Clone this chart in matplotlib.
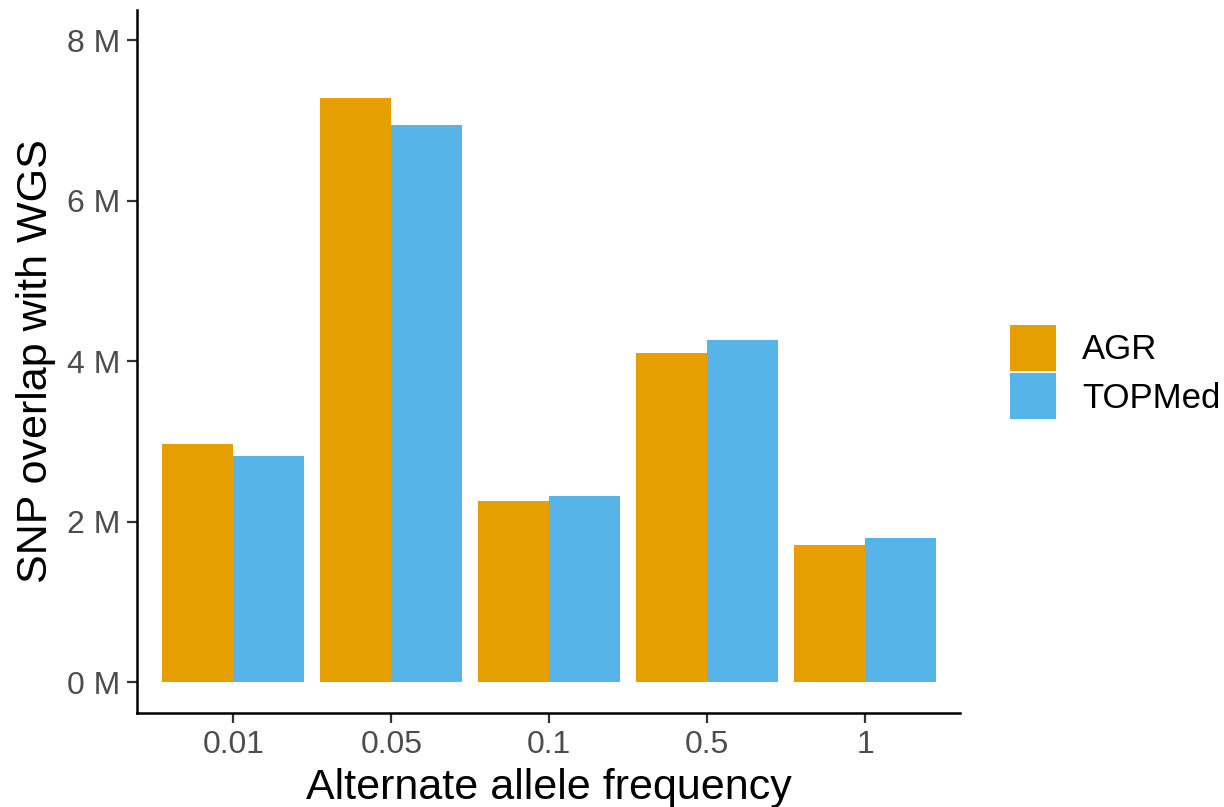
import numpy as np
import matplotlib.pyplot as plt
from matplotlib.ticker import FuncFormatter

plt.rcParams['font.family'] = ['Liberation Sans', 'DejaVu Sans']

freqs = ['0.01', '0.05', '0.1', '0.5', '1']
agr = [2.97, 7.28, 2.255, 4.10, 1.71]       # millions
topmed = [2.82, 6.94, 2.32, 4.26, 1.795]
series = ['AGR', 'TOPMed']
colors = ['#E69F00', '#56B4E9']

fig = plt.figure(figsize=(12.24, 8.07), dpi=100)
ax = fig.add_axes([137/1224, 1-713/807, (960-137)/1224, (713-10)/807])

x = np.arange(1, len(freqs)+1)
w = 0.45
ax.bar(x - w/2, agr, width=w, color=colors[0], label=series[0])
ax.bar(x + w/2, topmed, width=w, color=colors[1], label=series[1])

ax.set_xlim(0.39, 5.6)
ax.set_ylim(-0.386, 8.374)
ax.set_xticks(x)
ax.set_xticklabels(freqs)
ax.set_yticks([0, 2, 4, 6, 8])
ax.yaxis.set_major_formatter(FuncFormatter(lambda v, p: f'{int(v)} M'))

for s in ['top', 'right']:
    ax.spines[s].set_visible(False)
for s in ['left', 'bottom']:
    ax.spines[s].set_linewidth(1.8)
ax.tick_params(axis='both', length=7, width=1.6, color='#333333',
               labelsize=23, labelcolor='#4D4D4D', pad=5)

ax.set_xlabel('Alternate allele frequency', fontsize=31, labelpad=6)
ax.set_ylabel('SNP overlap with WGS', fontsize=31, labelpad=8)

# legend keys are square, like ggplot's
leg = ax.legend(loc='center left', bbox_to_anchor=(1.061, 0.485), frameon=False,
                fontsize=25, handlelength=1.32, handleheight=1.65,
                handletextpad=0.75, labelspacing=0.08, borderaxespad=0,
                borderpad=0)

plt.savefig('out.png', dpi=100)
